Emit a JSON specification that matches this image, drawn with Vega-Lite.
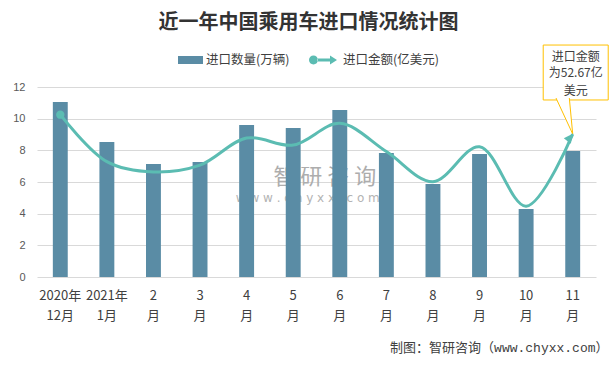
{
  "$schema": "https://vega.github.io/schema/vega-lite/v6.json",
  "width": 559,
  "height": 190,
  "autosize": {"type": "none"},
  "padding": {"left": 37, "top": 87, "right": 20, "bottom": 92},
  "background": "white",
  "title": {
    "text": "近一年中国乘用车进口情况统计图",
    "anchor": "middle",
    "frame": "group",
    "dx": -8,
    "offset": 12,
    "fontSize": 20,
    "fontWeight": "bold",
    "font": "Noto Sans CJK SC",
    "color": "#333333"
  },
  "config": {
    "view": {"stroke": null},
    "axisY": {
      "title": null,
      "domain": false,
      "ticks": false,
      "grid": true,
      "gridColor": "#D9D9D9",
      "labelColor": "#595959",
      "labelFont": "Liberation Sans",
      "labelFontSize": 11,
      "labelPadding": 12
    }
  },
  "datasets": {
    "main": [
      {"month": "2020年|12月", "qty": 11.05, "amt": 59.8},
      {"month": "2021年|1月", "qty": 8.53, "amt": 42.5},
      {"month": "2|月", "qty": 7.14, "amt": 38.7},
      {"month": "3|月", "qty": 7.26, "amt": 41.2},
      {"month": "4|月", "qty": 9.6, "amt": 51.2},
      {"month": "5|月", "qty": 9.41, "amt": 48.6},
      {"month": "6|月", "qty": 10.55, "amt": 56.6},
      {"month": "7|月", "qty": 7.83, "amt": 46.2},
      {"month": "8|月", "qty": 5.87, "amt": 35.1},
      {"month": "9|月", "qty": 7.77, "amt": 48.0},
      {"month": "10|月", "qty": 4.3, "amt": 26.1},
      {"month": "11|月", "qty": 7.96, "amt": 52.67}
    ],
    "callout": [
      {"month": "11|月", "t": "进口金额", "v": 13.92},
      {"month": "11|月", "t": "为52.67亿", "v": 12.87},
      {"month": "11|月", "t": "美元", "v": 11.77}
    ],
    "box": [{"month": "11|月", "top": 14.65, "bottom": 11.18, "tip": 9.03}],
    "wm1": [{"month": "6|月", "t": "智 研 咨 询", "v": 6.32}],
    "wm2": [{"month": "6|月", "t": "w w w . c h y x x . c o m", "v": 4.99}]
  },
  "data": {"name": "main"},
  "encoding": {
    "x": {
      "field": "month",
      "type": "nominal",
      "sort": null,
      "scale": {
        "domain": ["2020年|12月", "2021年|1月", "2|月", "3|月", "4|月", "5|月", "6|月", "7|月", "8|月", "9|月", "10|月", "11|月"],
        "paddingInner": 0.68,
        "paddingOuter": 0.34
      },
      "axis": {
        "title": "制图：智研咨询（www.chyxx.com）",
        "titleX": 571,
        "titleY": 70,
        "titleAlign": "right",
        "titleBaseline": "middle",
        "titleFont": "Liberation Mono, Noto Sans CJK SC",
        "titleFontSize": 13,
        "titleFontWeight": "normal",
        "titleColor": "#404040",
        "labelExpr": "split(datum.value, '|')",
        "labelAngle": 0,
        "labelFont": "Noto Sans CJK SC",
        "labelFontSize": 13,
        "labelColor": "#404040",
        "labelLineHeight": 20,
        "labelPadding": 12,
        "domain": false,
        "ticks": false,
        "grid": false
      }
    }
  },
  "layer": [
    {
      "layer": [
        {
          "data": {"name": "wm1"},
          "mark": {"type": "text", "font": "Noto Sans CJK SC", "fontSize": 22, "fill": "#ADADAD", "dx": -15, "baseline": "middle"},
          "encoding": {
            "y": {"field": "v", "type": "quantitative", "scale": {"domain": [0, 12], "nice": false}, "axis": {"values": [0, 2, 4, 6, 8, 10, 12]}},
            "text": {"field": "t"}
          }
        },
        {
          "data": {"name": "wm2"},
          "mark": {"type": "text", "font": "DejaVu Sans", "fontSize": 12, "fill": "#B3B3B3", "dx": -32, "baseline": "middle"},
          "encoding": {
            "y": {"field": "v", "type": "quantitative", "scale": {"domain": [0, 12], "nice": false}, "axis": {"values": [0, 2, 4, 6, 8, 10, 12]}},
            "text": {"field": "t"}
          }
        },
        {
          "mark": {"type": "bar"},
          "encoding": {
            "y": {
              "field": "qty",
              "type": "quantitative",
              "scale": {"domain": [0, 12], "nice": false},
              "axis": {"values": [0, 2, 4, 6, 8, 10, 12]}
            },
            "fill": {
              "datum": "进口数量(万辆)",
              "scale": {"range": ["#5A8CA5"]},
              "legend": {
                "orient": "none",
                "legendX": 141,
                "legendY": -39.5,
                "title": null,
                "padding": 0,
                "symbolType": "M-1,-0.32H1V0.32H-1Z",
                "symbolSize": 625,
                "symbolStrokeWidth": 0,
                "labelFont": "Noto Sans CJK SC",
                "labelFontSize": 12.5,
                "labelColor": "#404040",
                "labelOffset": 3
              }
            }
          }
        },
        {
          "data": {"name": "box"},
          "mark": {"type": "bar", "fill": "white", "stroke": "#FFC000", "strokeWidth": 1, "width": 65, "xOffset": 3},
          "encoding": {
            "y": {"field": "top", "type": "quantitative", "scale": {"domain": [0, 12], "nice": false}, "axis": {"values": [0, 2, 4, 6, 8, 10, 12]}},
            "y2": {"field": "bottom"}
          }
        },
        {
          "data": {"name": "box"},
          "mark": {"type": "point", "shape": "M-0.464,-1L0,0L-0.094,-1", "filled": true, "fill": "white", "stroke": "#FFC000", "strokeWidth": 1, "opacity": 1, "size": 5184},
          "encoding": {
            "y": {"field": "tip", "type": "quantitative", "scale": {"domain": [0, 12], "nice": false}, "axis": {"values": [0, 2, 4, 6, 8, 10, 12]}}
          }
        },
        {
          "data": {"name": "callout"},
          "mark": {"type": "text", "font": "Noto Sans CJK SC", "fontSize": 12, "fill": "#404040", "dx": 3, "baseline": "middle"},
          "encoding": {
            "y": {"field": "v", "type": "quantitative", "scale": {"domain": [0, 12], "nice": false}, "axis": {"values": [0, 2, 4, 6, 8, 10, 12]}},
            "text": {"field": "t"}
          }
        }
      ]
    },
    {
      "layer": [
        {
          "mark": {"type": "line", "interpolate": "catmull-rom", "strokeWidth": 3},
          "encoding": {
            "y": {"field": "amt", "type": "quantitative", "scale": {"domain": [0, 70], "nice": false}, "axis": null},
            "stroke": {
              "datum": "进口金额(亿美元)",
              "scale": {"range": ["#5BBCB2"]},
              "legend": {
                "orient": "none",
                "legendX": 272,
                "legendY": -41,
                "title": null,
                "padding": 0,
                "symbolType": "M-1,0A0.32,0.32 0 1,0 -0.36,0A0.32,0.32 0 1,0 -1,0Z M-0.4,-0.1H0.55V0.1H-0.4Z M0.5,-0.32L1,0L0.5,0.32Z",
                "symbolSize": 784,
                "symbolStrokeWidth": 0,
                "symbolFillColor": "#5BBCB2",
                "labelFont": "Noto Sans CJK SC",
                "labelFontSize": 12.5,
                "labelColor": "#404040",
                "labelOffset": 6,
                "encode": {"symbols": {"update": {"fill": {"value": "#5BBCB2"}, "strokeWidth": {"value": 0}}}}
              }
            }
          }
        },
        {
          "transform": [{"filter": "datum.month == '2020年|12月'"}],
          "mark": {"type": "point", "filled": true, "color": "#5BBCB2", "opacity": 1, "size": 70},
          "encoding": {
            "y": {"field": "amt", "type": "quantitative", "scale": {"domain": [0, 70], "nice": false}, "axis": null}
          }
        },
        {
          "transform": [{"filter": "datum.month == '11|月'"}],
          "mark": {"type": "point", "shape": "M0,-0.1L-0.55,1.1L0.55,1.1Z", "filled": true, "color": "#5BBCB2", "opacity": 1, "size": 256, "angle": 38},
          "encoding": {
            "y": {"field": "amt", "type": "quantitative", "scale": {"domain": [0, 70], "nice": false}, "axis": null}
          }
        }
      ]
    }
  ],
  "resolve": {"scale": {"y": "independent"}}
}
